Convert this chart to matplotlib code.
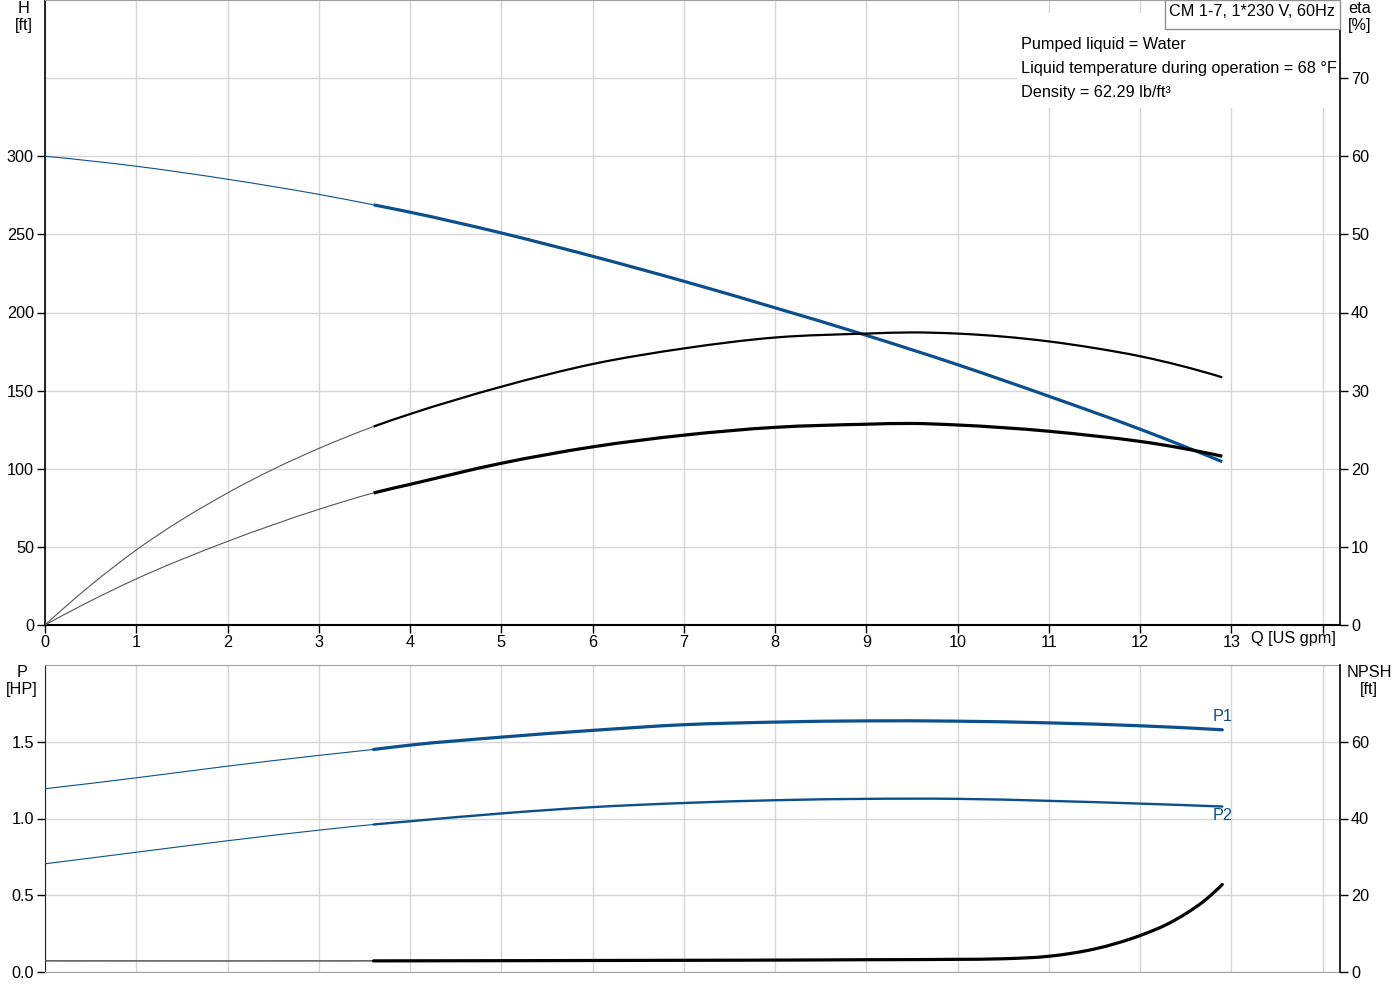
import numpy as np
import matplotlib
matplotlib.use('Agg')
import matplotlib.pyplot as plt
from matplotlib.patches import Rectangle, PathPatch
from matplotlib.path import Path

plt.rcParams['font.family'] = ['Liberation Sans', 'DejaVu Sans']

# ---------------- data ----------------
q_head = [0, 1, 2, 3, 3.6, 4, 5, 6, 7, 8, 9, 10, 11, 12, 12.9]
head_ft = [300, 293.6, 285.3, 275.6, 268.9, 264.2, 250.9, 236.0, 220.0, 203.0, 185.4, 166.6, 146.4, 125.3, 104.5]

q_eta = [0, 1, 2, 3, 3.6, 4, 5, 6, 7, 8, 9, 9.5, 10, 11, 11.5, 12, 12.9]
eta_upper = [0, 9.6, 16.9, 22.6, 25.4, 27.0, 30.5, 33.4, 35.4, 36.8, 37.3, 37.45, 37.3, 36.3, 35.45, 34.4, 31.7]
eta_lower = [0, 5.9, 10.7, 14.8, 16.9, 18.0, 20.7, 22.8, 24.3, 25.3, 25.7, 25.8, 25.6, 24.8, 24.2, 23.5, 21.6]

q_power = [0, 1, 2, 3, 3.6, 4, 5, 6, 7, 8, 9, 10, 11, 12, 12.9]
p1_hp = [1.194, 1.265, 1.341, 1.411, 1.450, 1.478, 1.530, 1.574, 1.611, 1.628, 1.636, 1.634, 1.623, 1.604, 1.578]
p2_hp = [0.705, 0.780, 0.855, 0.924, 0.961, 0.982, 1.033, 1.074, 1.101, 1.119, 1.128, 1.128, 1.115, 1.097, 1.078]

q_npsh = [0, 3.6, 7, 8, 9, 10, 10.5, 11, 11.5, 12, 12.3, 12.5, 12.7, 12.9]
npsh_ft = [2.9, 2.9, 3.05, 3.1, 3.2, 3.3, 3.45, 4.1, 6.0, 9.5, 12.5, 15.2, 18.5, 22.8]

q_split = 3.6

x_ticks = list(range(0, 15))
x_labels = [str(v) for v in range(0, 14)] + ['']
h_ticks = [0, 50, 100, 150, 200, 250, 300]
eta_ticks = [0, 10, 20, 30, 40, 50, 60, 70]
p_ticks = [0.0, 0.5, 1.0, 1.5]
npsh_ticks = [0, 20, 40, 60]

title_text = 'CM 1-7, 1*230 V, 60Hz'
info_lines = ['Pumped liquid = Water',
              'Liquid temperature during operation = 68 °F',
              'Density = 62.29 lb/ft³']

# ---------------- style ----------------
BLUE = '#0b4f8d'
GRID = '#d6d6d6'
GRAYSPINE = '#a0a0a0'
FS = 11.7

W, H = 1400, 1000
def fx(px): return px / W
def fy(py): return 1 - py / H

fig = plt.figure(figsize=(14, 10), dpi=100)


def draw_curve(ax, q, v, thin_kw, thick_kw):
    """Draw the read points as a smooth (Hermite/Bezier) path: thin below q_split, thick above."""
    x = np.asarray(q, float); y = np.asarray(v, float)
    h = np.diff(x); d = np.diff(y) / h
    m = np.zeros_like(x)
    m[1:-1] = (h[:-1] * d[1:] + h[1:] * d[:-1]) / (h[:-1] + h[1:])
    m[0] = 2 * d[0] - m[1] if len(x) > 2 else d[0]
    m[-1] = 2 * d[-1] - m[-2] if len(x) > 2 else d[-1]
    parts = {'thin': [], 'thick': []}
    for i in range(len(x) - 1):
        key = 'thin' if x[i + 1] <= q_split + 1e-9 else 'thick'
        parts[key].append(i)
    for key, kw in (('thin', thin_kw), ('thick', thick_kw)):
        idx = parts[key]
        if not idx:
            continue
        verts = [(x[idx[0]], y[idx[0]])]
        codes = [Path.MOVETO]
        for i in idx:
            hh = h[i]
            verts += [(x[i] + hh / 3, y[i] + m[i] * hh / 3),
                      (x[i + 1] - hh / 3, y[i + 1] - m[i + 1] * hh / 3),
                      (x[i + 1], y[i + 1])]
            codes += [Path.CURVE4] * 3
        ax.add_patch(PathPatch(Path(verts, codes), fill=False, **kw))


def style_axes(ax, axb):
    ax.set_axisbelow(True)
    ax.grid(True, color=GRID, lw=1.0, zorder=0)
    ax.spines['right'].set_visible(False)
    for s in ['top', 'left', 'bottom', 'right']:
        axb.spines[s].set_visible(False)
    axb.spines['right'].set_visible(True)
    axb.spines['right'].set_color('black')
    axb.spines['right'].set_linewidth(1.2)

# ---------------- top panel ----------------
ax1 = fig.add_axes([fx(45), fy(625), fx(1340) - fx(45), fy(0) - fy(625)])
ax1b = ax1.twinx()
ax1.set_xlim(0, 14.19)
ax1.set_ylim(0, 400)
ax1b.set_ylim(0, 80)
style_axes(ax1, ax1b)
ax1.axhline(350, color=GRID, lw=1.0, zorder=0)
ax1.spines['top'].set_color(GRAYSPINE)
ax1.spines['left'].set_color('black'); ax1.spines['left'].set_linewidth(1.2)
ax1.spines['bottom'].set_color('black'); ax1.spines['bottom'].set_linewidth(1.5)

ax1.set_xticks(x_ticks)
ax1.set_xticklabels(x_labels)
ax1.set_yticks(h_ticks)
ax1b.set_yticks(eta_ticks)
ax1.tick_params(axis='x', direction='out', length=6, width=1, labelsize=FS, pad=1)
ax1.tick_params(axis='y', direction='out', length=6, width=1, labelsize=FS, pad=2)
ax1b.tick_params(axis='y', direction='out', length=6, width=1, labelsize=FS, pad=2)

draw_curve(ax1, q_head, head_ft,
           dict(edgecolor=BLUE, lw=0.8, zorder=3),
           dict(edgecolor=BLUE, lw=2.3, zorder=3, capstyle='butt'))
draw_curve(ax1b, q_eta, eta_upper,
           dict(edgecolor='#555555', lw=0.8, zorder=2),
           dict(edgecolor='black', lw=1.6, zorder=2, capstyle='butt'))
draw_curve(ax1b, q_eta, eta_lower,
           dict(edgecolor='#555555', lw=0.8, zorder=2),
           dict(edgecolor='black', lw=2.3, zorder=2, capstyle='butt'))

# white background behind info text
ax1.add_patch(Rectangle((fx(1017), fy(108)), fx(1339) - fx(1017), fy(13) - fy(108),
                        transform=fig.transFigure, facecolor='white', edgecolor='none',
                        zorder=1))
for i, line in enumerate(info_lines):
    fig.text(fx(1021), fy(44 + 24 * i), line, fontsize=FS, ha='left', va='center', zorder=5)

# title box
fig.patches.append(Rectangle((fx(1165), fy(29)), fx(1340) - fx(1165), fy(0) - fy(29),
                             transform=fig.transFigure, facecolor='white',
                             edgecolor='#909090', lw=1.0, figure=fig, zorder=4))
fig.text(fx(1252), fy(12), title_text, fontsize=FS, ha='center', va='center', zorder=5)

fig.text(fx(1251), fy(639), 'Q [US gpm]', fontsize=FS, ha='left', va='center')

fig.text(fx(24), fy(1), 'H\n[ft]', fontsize=FS, ha='center', va='top', linespacing=1.2)
fig.text(fx(1360), fy(1), 'eta\n[%]', fontsize=FS, ha='center', va='top', linespacing=1.2)

# ---------------- bottom panel ----------------
ax2 = fig.add_axes([fx(45), fy(972), fx(1340) - fx(45), fy(665) - fy(972)])
ax2b = ax2.twinx()
ax2.set_xlim(0, 14.19)
ax2.set_ylim(0, 2.0)
ax2b.set_ylim(0, 80)
style_axes(ax2, ax2b)
ax2.spines['top'].set_color(GRAYSPINE)
ax2.spines['bottom'].set_color(GRAYSPINE)
ax2.spines['left'].set_color('#222222')

ax2.set_xticks(x_ticks)
ax2.set_xticklabels([])
ax2.tick_params(axis='x', length=0)
ax2.set_yticks(p_ticks)
ax2.set_yticklabels([f'{v:.1f}' for v in p_ticks])
ax2.tick_params(axis='y', direction='out', length=6, width=1, labelsize=FS, pad=2)
ax2b.set_yticks(npsh_ticks)
ax2b.tick_params(axis='y', direction='out', length=6, width=1, labelsize=FS, pad=2)

draw_curve(ax2, q_power, p1_hp,
           dict(edgecolor=BLUE, lw=0.8, zorder=3),
           dict(edgecolor=BLUE, lw=2.3, zorder=3, capstyle='round'))
draw_curve(ax2, q_power, p2_hp,
           dict(edgecolor=BLUE, lw=0.8, zorder=3),
           dict(edgecolor=BLUE, lw=1.7, zorder=3, capstyle='round'))
draw_curve(ax2b, q_npsh, npsh_ft,
           dict(edgecolor='#444444', lw=1.0, zorder=2),
           dict(edgecolor='black', lw=2.3, zorder=2, capstyle='round'))

ax2.text(q_power[-1], p1_hp[-1] + 0.085, 'P1', color=BLUE, fontsize=FS, ha='center', va='center')
ax2.text(q_power[-1], p2_hp[-1] - 0.06, 'P2', color=BLUE, fontsize=FS, ha='center', va='center')

fig.text(fx(22), fy(665), 'P\n[HP]', fontsize=FS, ha='center', va='top', linespacing=1.2)
fig.text(fx(1369), fy(665), 'NPSH\n[ft]', fontsize=FS, ha='center', va='top', linespacing=1.2)

fig.savefig('out.png', dpi=100, facecolor='white')
